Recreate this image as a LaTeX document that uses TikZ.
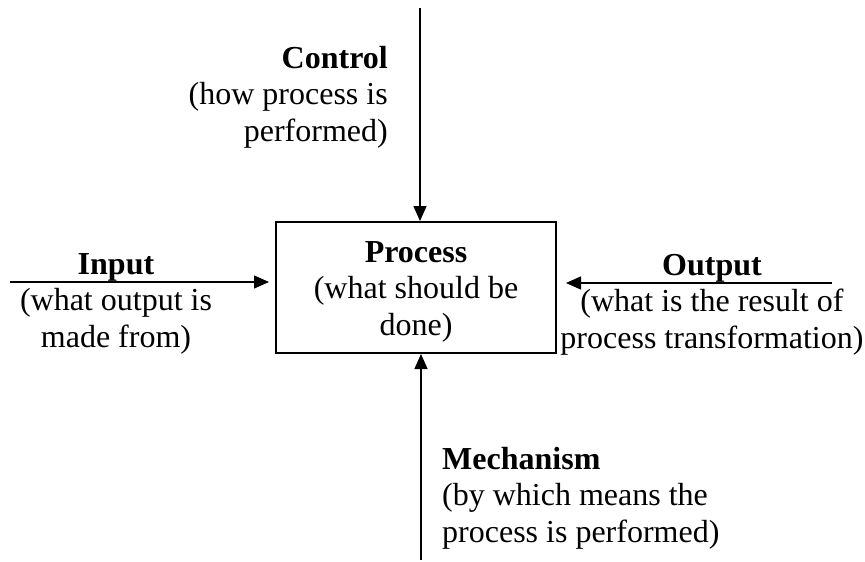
\documentclass[tikz,border=0pt]{standalone}
\usepackage{fontspec}
\setmainfont{Liberation Serif}
\usetikzlibrary{arrows.meta}
\begin{document}
\begin{tikzpicture}[x=1pt,y=-1pt,
  lbl/.style={inner sep=0pt, font=\fontsize{32}{36.5}\selectfont},
  flow/.style={line width=1.4pt, -{Triangle[length=15pt,width=13pt]}},
  procbox/.style={draw, line width=2pt, minimum width=280pt, minimum height=131pt, inner sep=0pt}]
  \useasboundingbox (0,0) rectangle (865,562);
  % central activity box
  \node[procbox] (proc) at (416,287.5) {};
  \node[lbl, align=center, anchor=base] (proctext) at (416,335)
    {\textbf{Process}\\(what should be\\done)};
  % free ends of the four connectors
  \coordinate (ctrlend) at (420,8);
  \coordinate (mechend) at (421,560);
  \coordinate (inend) at (10,282);
  \coordinate (outend) at (832,283);
  \draw[flow] (ctrlend) -- (ctrlend |- proc.north);
  \draw[flow] (mechend) -- (mechend |- proc.south);
  \draw[flow, shorten >=6pt] (inend) -- (inend -| proc.west);
  \draw[flow, shorten >=-1pt] (outend) -- (outend -| 567,0);
  % labels
  \node[lbl, align=right, anchor=base east] (ctrl) at (388,141)
    {\textbf{Control}\\(how process is\\performed)};
  \node[lbl, align=left, anchor=base west] (mech) at (442,542)
    {\textbf{Mechanism}\\(by which means the\\process is performed)};
  \node[lbl, align=center, anchor=base] (inp) at (116,347)
    {\textbf{Input}\\(what output is\\made from)};
  \node[lbl, align=center, anchor=base] (outp) at (712,348)
    {\textbf{Output}\\(what is the result of\\process transformation)};
\end{tikzpicture}
\end{document}
